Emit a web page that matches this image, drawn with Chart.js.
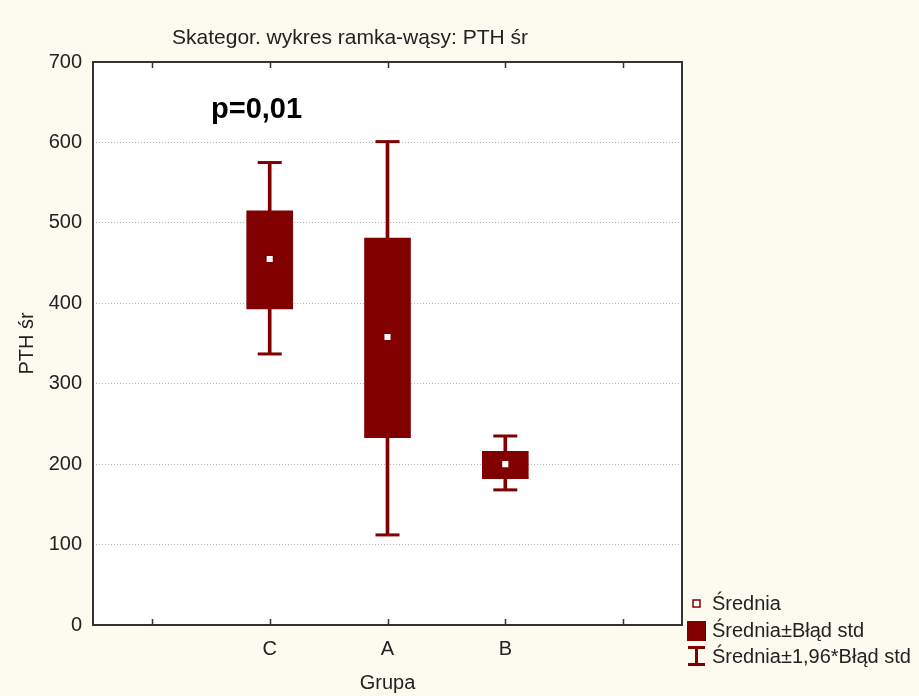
<!DOCTYPE html>
<html>
<head>
<meta charset="utf-8">
<script src="https://cdn.jsdelivr.net/npm/chart.js@4"></script>
<style>
  html, body { margin: 0; padding: 0; background: #fdfaf0; }
</style>
</head>
<body>
<canvas id="myChart" width="919" height="696"></canvas>
<script>
// data
var groups = ['C', 'A', 'B']
var xLabels = ['', 'C', 'A', 'B', '']
var means = [455, 358, 200]
var seLow = [393, 233, 182]
var seHigh = [515, 481, 216]
var ciLow = [337, 112, 168]
var ciHigh = [575, 601, 235]
var yTicks = [0, 100, 200, 300, 400, 500, 600, 700]

var dark = '#800000'
var cream = '#fdfaf0'
var txt = '#222'
var font = 'Liberation Sans'

var boxData = groups.map(function(g, i){ return { x: g, y: [seLow[i], seHigh[i]] } })
var stemData = groups.map(function(g, i){ return { x: g, y: [ciLow[i], ciHigh[i]] } })
var capData = []
groups.forEach(function(g, i){
    capData.push({ x: g, y: ciLow[i] })
    capData.push({ x: g, y: ciHigh[i] })
})
var meanData = groups.map(function(g, i){ return { x: g, y: means[i] } })

var decor = {
    id: 'decor',
    beforeDraw: function(chart){
        var ctx = chart.ctx, a = chart.chartArea
        ctx.save()
        ctx.fillStyle = cream
        ctx.fillRect(0, 0, chart.width, chart.height)
        ctx.fillStyle = '#fff'
        ctx.fillRect(a.left, a.top, a.right - a.left, a.bottom - a.top)
        ctx.restore()
    },
    afterDraw: function(chart){
        var ctx = chart.ctx, a = chart.chartArea, xs = chart.scales.x
        ctx.save()
        // frame
        ctx.strokeStyle = '#333'
        ctx.lineWidth = 2
        ctx.strokeRect(a.left, a.top, a.right - a.left, a.bottom - a.top)
        // inward ticks on top and bottom
        ctx.lineWidth = 1.5
        xs.ticks.forEach(function(t, i){
            var px = Math.round(xs.getPixelForTick(i)) + 0.5
            ctx.beginPath()
            ctx.moveTo(px, a.bottom); ctx.lineTo(px, a.bottom - 6)
            ctx.moveTo(px, a.top); ctx.lineTo(px, a.top + 6)
            ctx.stroke()
        })
        // title
        ctx.fillStyle = txt
        ctx.font = '21px "' + font + '"'
        ctx.textAlign = 'center'
        ctx.textBaseline = 'middle'
        ctx.fillText('Skategor. wykres ramka-wąsy: PTH śr', 350, 38)
        // p value
        ctx.fillStyle = '#000'
        ctx.font = 'bold 29px "' + font + '"'
        ctx.textAlign = 'left'
        ctx.fillText('p=0,01', 211, 110)
        // legend
        ctx.fillStyle = txt
        ctx.font = '20px "' + font + '"'
        ctx.fillText('Średnia', 712, 604)
        ctx.fillText('Średnia±Błąd std', 712, 631)
        ctx.fillText('Średnia±1,96*Błąd std', 712, 657)
        ctx.fillStyle = '#fff'
        ctx.strokeStyle = dark
        ctx.lineWidth = 1.5
        ctx.fillRect(693, 600, 7, 7)
        ctx.strokeRect(693, 600, 7, 7)
        ctx.fillStyle = dark
        ctx.fillRect(687, 621, 19, 20)
        ctx.lineWidth = 3
        ctx.beginPath()
        ctx.moveTo(688, 647.5); ctx.lineTo(705, 647.5)
        ctx.moveTo(688, 664.5); ctx.lineTo(705, 664.5)
        ctx.moveTo(696.5, 647); ctx.lineTo(696.5, 665)
        ctx.stroke()
        ctx.restore()
    }
}

var ctx = document.getElementById('myChart')
var myChart = new Chart(ctx, {
    type: 'bar',
    data: {
        labels: xLabels,
        datasets: [
            { label: 'mean', type: 'line', data: meanData, showLine: false, order: 0,
              pointStyle: 'rect', pointRadius: 4.3, pointBorderWidth: 0,
              pointBackgroundColor: '#fff', pointBorderColor: '#fff' },
            { label: 'se', data: boxData, grouped: false, barThickness: 46, order: 1,
              backgroundColor: dark, borderWidth: 0 },
            { label: 'caps', type: 'line', data: capData, showLine: false, order: 2,
              pointStyle: 'line', pointRadius: 12, pointBorderWidth: 3,
              pointBorderColor: dark, pointBackgroundColor: dark },
            { label: 'ci', data: stemData, grouped: false, barThickness: 3, order: 3,
              backgroundColor: dark, borderWidth: 0 }
        ]
    },
    options: {
        responsive: false,
        animation: false,
        layout: { padding: { left: 0, top: 62, right: 237, bottom: 0 } },
        plugins: { legend: { display: false }, tooltip: { enabled: false }, title: { display: false } },
        scales: {
            x: {
                type: 'category',
                offset: true,
                grid: { display: false },
                border: { display: false },
                ticks: { color: txt, font: { family: font, size: 20 }, padding: 4, autoSkip: false, maxRotation: 0 },
                title: { display: true, text: 'Grupa', color: txt, font: { family: font, size: 20 }, padding: { top: 0, bottom: 1 } },
                afterFit: function(s){ s.height = 71 }
            },
            y: {
                min: 0, max: 700,
                afterBuildTicks: function(s){ s.ticks = yTicks.map(function(v){ return { value: v } }) },
                grid: { color: '#b4b4b4', drawTicks: false, lineWidth: 1 },
                border: { display: false, dash: [1, 2] },
                ticks: { color: txt, font: { family: font, size: 20 }, padding: 11 },
                title: { display: true, text: 'PTH śr', color: txt, font: { family: font, size: 20 }, padding: { top: 15, bottom: 0 } },
                afterFit: function(s){ s.width = 93 }
            }
        }
    },
    plugins: [decor]
})
</script>
</body>
</html>
